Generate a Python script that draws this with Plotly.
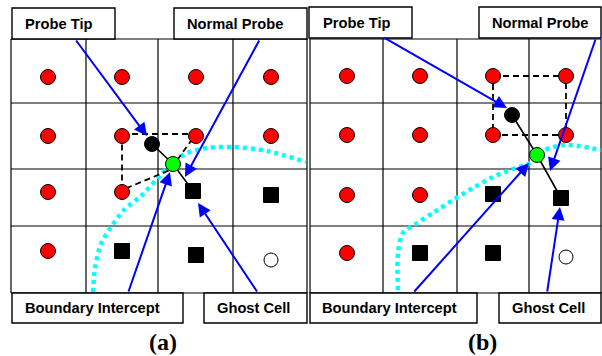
import plotly.graph_objects as go

# ---------------- data (diagram coordinates, in figure units) ----------------
col_edges_a = [11, 86, 158, 233, 307]
col_edges_b = [310, 383, 457, 529, 601]
row_edges = [39, 103, 169, 226, 293]

# fluid (red) points
red_x_a = [48, 122, 196, 271, 48, 122, 196, 271, 48, 122, 48]
red_y_a = [77, 77, 77, 77, 136, 136, 136, 136, 192, 192, 251]
red_x_b = [347, 420, 493, 566, 347, 420, 493, 566, 347, 420, 347]
red_y_b = [76, 76, 76, 76, 135, 135, 135, 135, 195, 195, 253]

# solid (black square) points
sq_x_a = [193, 271, 122, 196]
sq_y_a = [191, 195, 251, 255]
sq_x_b = [493, 561, 420, 493]
sq_y_b = [194, 198, 253, 253]

# inactive (hollow) points
hol_x = [271, 566]
hol_y = [260, 257]

# probe tip / boundary intercept / ghost cell chain
probe_x_a = [152, 173, 193]
probe_y_a = [144, 164, 191]
probe_x_b = [512, 537, 561]
probe_y_b = [115, 155, 198]

# interpolation stencils (dashed)
sten_x_a = [122, 196, 170, 122, 122]
sten_y_a = [134, 134, 170, 190, 134]
sten_x_b = [493, 566, 566, 493, 493]
sten_y_b = [76, 76, 135, 135, 76]

# immersed boundary (cyan dotted)
bnd_x_a = [93, 95, 101, 111, 124, 141, 157, 172, 187, 207, 233, 267, 306]
bnd_y_a = [292, 268, 244, 227, 210, 196, 179, 163, 153, 148, 147, 151, 162]
bnd_x_b = [398, 398, 403, 417, 433, 453, 473, 493, 513, 530, 545, 565, 601]
bnd_y_b = [290, 253, 233, 223, 213, 200, 188, 177, 169, 163, 150, 145, 150]

# label boxes: (text, x0, x1, y0, y1, text_x)
top_boxes = [("Probe Tip", 12, 115, 8, 39, 58), ("Normal Probe", 174, 307, 8, 39, 235),
             ("Probe Tip", 309, 412, 7, 38, 356), ("Normal Probe", 479, 601, 7, 38, 540)]
bot_boxes = [("Boundary Intercept", 12, 183, 293, 323, 92), ("Ghost Cell", 204, 307, 293, 323, 253),
             ("Boundary Intercept", 310, 477, 293, 323, 389), ("Ghost Cell", 499, 601, 293, 323, 548)]

# arrows: (tail_x, tail_y, tip_x, tip_y)
arrows = [(75, 39, 147, 136), (260, 39, 185, 177), (128, 293, 170, 172), (258, 293, 198, 203),
          (383, 37, 507, 108), (596, 38, 550, 171), (413, 293, 529, 163), (547, 293, 560, 207)]

panel_labels = [("(a)", 163, 342), ("(b)", 482, 342)]

# ---------------- figure ----------------
fig = go.Figure()
shapes = []
for cols in (col_edges_a, col_edges_b):
    for cx in cols:
        shapes.append(dict(type="line", x0=cx, x1=cx, y0=row_edges[0], y1=row_edges[-1],
                           line=dict(color="black", width=1.2), layer="below"))
    for ry in row_edges:
        shapes.append(dict(type="line", x0=cols[0], x1=cols[-1], y0=ry, y1=ry,
                           line=dict(color="black", width=1.2), layer="below"))
for (t, x0, x1, y0, y1, tx) in top_boxes + bot_boxes:
    shapes.append(dict(type="rect", x0=x0, x1=x1, y0=y0, y1=y1,
                       line=dict(color="black", width=1.4), fillcolor="white", layer="above"))

for bx, by in ((bnd_x_a, bnd_y_a), (bnd_x_b, bnd_y_b)):
    fig.add_trace(go.Scatter(x=bx, y=by, mode="lines", line=dict(color="#00FFFF", width=4.5,
                             dash="4px,4px", shape="spline", smoothing=0.8),
                             hoverinfo="skip", cliponaxis=False))
for sx, sy in ((sten_x_a, sten_y_a), (sten_x_b, sten_y_b)):
    fig.add_trace(go.Scatter(x=sx, y=sy, mode="lines",
                             line=dict(color="black", width=1.8, dash="6px,4px"), hoverinfo="skip"))
for px, py in ((probe_x_a, probe_y_a), (probe_x_b, probe_y_b)):
    fig.add_trace(go.Scatter(x=px, y=py, mode="lines", line=dict(color="black", width=1.6),
                             hoverinfo="skip"))

mk_line = dict(color="black", width=1)
for rx, ry in ((red_x_a, red_y_a), (red_x_b, red_y_b)):
    fig.add_trace(go.Scatter(x=rx, y=ry, mode="markers",
                             marker=dict(symbol="circle", size=15, color="#FF0000", line=mk_line)))
for qx, qy in ((sq_x_a, sq_y_a), (sq_x_b, sq_y_b)):
    fig.add_trace(go.Scatter(x=qx, y=qy, mode="markers",
                             marker=dict(symbol="square", size=15, color="black", line=mk_line)))
fig.add_trace(go.Scatter(x=hol_x, y=hol_y, mode="markers",
                         marker=dict(symbol="circle", size=14, color="white", line=mk_line)))
for px, py in ((probe_x_a, probe_y_a), (probe_x_b, probe_y_b)):
    fig.add_trace(go.Scatter(x=px[:1], y=py[:1], mode="markers",
                             marker=dict(symbol="circle", size=15, color="black", line=mk_line)))
    fig.add_trace(go.Scatter(x=px[1:2], y=py[1:2], mode="markers",
                             marker=dict(symbol="circle", size=15, color="#00FF00", line=mk_line)))

annotations = []
for (ax_, ay_, x_, y_) in arrows:
    annotations.append(dict(x=x_, y=y_, ax=ax_, ay=ay_, xref="x", yref="y", axref="x", ayref="y",
                            text="", showarrow=True, arrowhead=2, arrowsize=1.3, arrowwidth=2,
                            arrowcolor="#0000FF", standoff=0, startstandoff=0))
for (t, x0, x1, y0, y1, tx) in top_boxes + bot_boxes:
    annotations.append(dict(x=tx, y=(y0 + y1) / 2, xref="x", yref="y", text="<b>%s</b>" % t,
                            showarrow=False, font=dict(family="Liberation Sans, Arial", size=14.7,
                                                        color="black")))
for (t, x_, y_) in panel_labels:
    annotations.append(dict(x=x_, y=y_, xref="x", yref="y", text="<b>%s</b>" % t, showarrow=False,
                            font=dict(family="Liberation Serif, Times New Roman", size=24,
                                      color="black")))

fig.update_layout(
    width=602, height=356, margin=dict(l=0, r=0, t=0, b=0),
    paper_bgcolor="white", plot_bgcolor="white", showlegend=False,
    xaxis=dict(range=[0, 602], visible=False, fixedrange=True),
    yaxis=dict(range=[356, 0], visible=False, fixedrange=True),
    shapes=shapes, annotations=annotations,
)
fig.write_html("out.html")
